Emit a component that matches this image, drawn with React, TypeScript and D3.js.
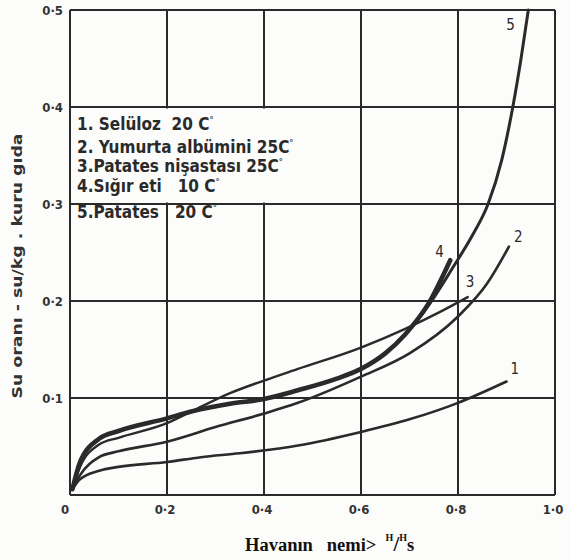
import * as d3 from "d3";

// nem (x) – su oranı (y) okumaları, grafikten tahmini
const seluloz: [number, number][] = [
  [0.005, 0.006], [0.02, 0.016], [0.06, 0.025], [0.1, 0.029], [0.2, 0.034], [0.27, 0.039],
  [0.35, 0.043], [0.47, 0.051], [0.6, 0.065], [0.7, 0.078], [0.8, 0.095], [0.9, 0.117],
];
const yumurta: [number, number][] = [
  [0.005, 0.006], [0.02, 0.02], [0.06, 0.039], [0.1, 0.045], [0.2, 0.055], [0.3, 0.07],
  [0.4, 0.084], [0.47, 0.095], [0.6, 0.122], [0.7, 0.146], [0.8, 0.184], [0.86, 0.218], [0.905, 0.256],
];
const nisasta: [number, number][] = [
  [0.005, 0.006], [0.02, 0.028], [0.06, 0.052], [0.1, 0.059], [0.2, 0.074], [0.25, 0.086],
  [0.33, 0.105], [0.4, 0.118], [0.47, 0.13], [0.6, 0.152], [0.69, 0.171], [0.76, 0.188], [0.82, 0.204],
];
const sigirEti: [number, number][] = [
  [0.005, 0.006], [0.02, 0.033], [0.06, 0.058], [0.1, 0.066], [0.2, 0.079], [0.25, 0.086],
  [0.33, 0.094], [0.4, 0.099], [0.47, 0.108], [0.55, 0.12], [0.6, 0.13], [0.65, 0.146],
  [0.69, 0.165], [0.74, 0.198], [0.784, 0.242],
];
const patates: [number, number][] = [
  [0.005, 0.006], [0.02, 0.033], [0.06, 0.058], [0.1, 0.066], [0.2, 0.079], [0.25, 0.086],
  [0.33, 0.094], [0.4, 0.099], [0.47, 0.108], [0.55, 0.12], [0.6, 0.13], [0.65, 0.146],
  [0.69, 0.165], [0.74, 0.196], [0.79, 0.235], [0.83, 0.268], [0.862, 0.3], [0.89, 0.345],
  [0.913, 0.4], [0.93, 0.45], [0.945, 0.5],
];

const legendLines = [
  ["1. Selüloz\u00a0 20 C", "°"],
  ["2. Yumurta albümini 25C", "°"],
  ["3.Patates nişastası 25C", "°"],
  ["4.Sığır eti\u00a0\u00a0 10 C", "°"],
  ["5.Patates\u00a0\u00a0 20 C", "°"],
];
const xTicks = [0.2, 0.4, 0.6, 0.8, 1.0];
const yTicks = [0.1, 0.2, 0.3, 0.4, 0.5];
const tickText = (v: number) => v.toFixed(1).replace(".", "·");

const ink = "#2a2a2a";
const handFont = "'DejaVu Sans Condensed', 'DejaVu Sans', sans-serif";

export default function App() {
  const width = 570;
  const height = 560;
  const left = 70, right = 555, top = 10, bottom = 495;

  const x = d3.scaleLinear().domain([0, 1]).range([left, right]);
  const y = d3.scaleLinear().domain([0, 0.5]).range([bottom, top]);

  const line = d3
    .line<[number, number]>()
    .x((d) => x(d[0]))
    .y((d) => y(d[1]))
    .curve(d3.curveMonotoneX);

  const series = [
    { id: "1", pts: seluloz, w: 2.6, dx: 4, dy: -8 },
    { id: "2", pts: yumurta, w: 2.6, dx: 5, dy: -5 },
    { id: "3", pts: nisasta, w: 2.4, dx: -2, dy: -10 },
    { id: "4", pts: sigirEti, w: 4.6, dx: -15, dy: -3 },
    { id: "5", pts: patates, w: 3, dx: -22, dy: 20 },
  ];

  const legendBaselines = [130, 153, 172, 192, 218];

  return (
    <div style={{ position: "absolute", left: 0, top: 0 }}>
      <svg width={width} height={height} style={{ display: "block", background: "#fcfcfb" }}>
        {/* ızgara */}
        <g stroke={ink} strokeWidth={2}>
          {[0, ...xTicks].map((t) => (
            <line key={"gx" + t} x1={x(t)} x2={x(t)} y1={y(0)} y2={y(0.5)} />
          ))}
          {[0, ...yTicks].map((t) => (
            <line key={"gy" + t} x1={x(0)} x2={x(1)} y1={y(t)} y2={y(t)} />
          ))}
        </g>

        {/* açıklama kutusu, ızgarayı örter */}
        <rect
          x={x(0) + 1.5}
          y={y(0.4) + 1.5}
          width={230}
          height={y(0.3) - y(0.4) - 3}
          fill="#fcfcfb"
        />

        {/* eğriler */}
        <g fill="none" stroke={ink} strokeLinecap="round" strokeLinejoin="round">
          {series.map((s) => (
            <path key={s.id} d={line(s.pts) ?? ""} strokeWidth={s.w} />
          ))}
        </g>

        {/* eğri numaraları */}
        <g fontFamily={handFont} fontSize={15} fill={ink}>
          {series.map((s) => {
            const last = s.pts[s.pts.length - 1];
            return (
              <text key={"l" + s.id} x={x(last[0]) + s.dx} y={y(last[1]) + s.dy}>
                {s.id}
              </text>
            );
          })}
        </g>

        {/* açıklama */}
        <g fontFamily={handFont} fontWeight="bold" fontSize={17} fill={ink}>
          {legendLines.map((l, i) => (
            <text key={"lg" + i} x={77} y={legendBaselines[i]}>
              {l[0]}
              <tspan dy={-7} fontSize={9}>{l[1]}</tspan>
            </text>
          ))}
        </g>

        {/* eksen etiketleri */}
        <g fontFamily={handFont} fontWeight="bold" fontSize={13} fill="#333">
          {yTicks.map((t) => (
            <text key={"yt" + t} x={63} y={y(t)} dy="0.35em" textAnchor="end">
              {tickText(t)}
            </text>
          ))}
          <text x={65} y={514} textAnchor="middle">0</text>
          {xTicks.map((t) => (
            <text key={"xt" + t} x={x(t) - 2} y={514} textAnchor="middle">
              {tickText(t)}
            </text>
          ))}
        </g>

        <text
          transform="translate(22,266) rotate(-90)"
          textAnchor="middle"
          fontFamily={handFont}
          fontWeight="bold"
          fontSize={14}
          fill="#333"
          textLength={265}
          lengthAdjust="spacingAndGlyphs"
        >
          Su oranı - su/kg . kuru gıda
        </text>

        <text
          x={245}
          y={551}
          fontFamily="'Liberation Serif', 'Times New Roman', serif"
          fontWeight="bold"
          fontSize={18.5}
          fill="#111"
        >
          Havanın{"\u00a0\u00a0\u00a0"}nemi{">\u00a0\u00a0"}
          <tspan fontSize={10} dy={-10}>H</tspan>
          <tspan fontSize={21} dy={10}>/</tspan>
          <tspan fontSize={10} dy={-10}>H</tspan>
          <tspan dy={10}>s</tspan>
        </text>
      </svg>
    </div>
  );
}
